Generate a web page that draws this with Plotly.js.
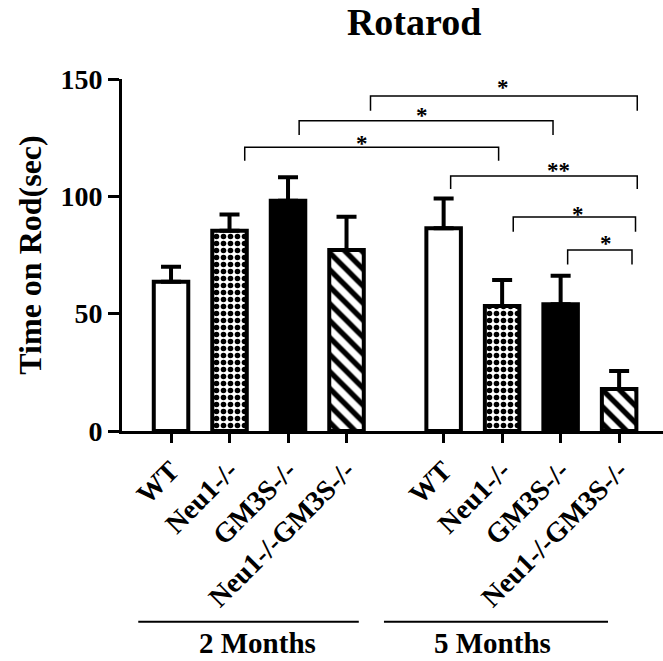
<!DOCTYPE html>
<html><head><meta charset="utf-8">
<script src="https://cdn.plot.ly/plotly-3.0.1.min.js"></script>
<style>html,body{margin:0;padding:0;background:#fff;}</style>
</head><body><div id="chart" style="width:663px;height:661px;"></div>
<script>
// ---- data ----
const genotypes = ['WT', 'Neu1-/-', 'GM3S-/-', 'Neu1-/-GM3S-/-'];
const groupNames = ['2 Months', '5 Months'];
const mean2 = [63.6, 85.3, 98.1, 77.1];
const sem2  = [6.4, 7.0, 10.0, 14.2];
const mean5 = [86.4, 53.3, 54.0, 17.9];
const sem5  = [12.7, 11.0, 12.2, 7.7];
const yTicks = [0, 50, 100, 150];
// significance brackets (x in axis units, y in seconds)
const sigLabel  = ['*', '*', '*', '**', '*', '*'];
const sigStart  = [3.41, 2.19, 1.26, 4.78, 5.85, 6.78];
const sigEnd    = [7.97, 6.53, 5.60, 7.97, 7.94, 7.88];
const sigLevel  = [142.8, 132.2, 120.9, 108.7, 91.2, 77.1];
const sigLeg    = [136.5, 126.1, 115.2, 103.1, 84.9, 71.0];
const sigTextX  = [5.68, 4.29, 3.26, 6.63, 6.96, 7.43];
const sigTextY  = [148.4, 136.5, 124.7, 113.1, 94.6, 82.1];
// group underline extents / label centres
const groupLineStart = [-0.56, 3.64];
const groupLineEnd   = [3.21, 7.47];
const groupLabelX    = [1.48, 5.50];

// ---- layout helpers ----
const groupOffset = [0, 4.66];
const pos2 = genotypes.map((_, i) => i + groupOffset[0]);
const pos5 = genotypes.map((_, i) => i + groupOffset[1]);
const FONT = 'Liberation Serif, Times New Roman, serif';

const styles = [
  {color: 'white', pattern: {shape: ''}},
  {color: 'white', pattern: {shape: '.', fgcolor: 'black', bgcolor: 'white', size: 7, solidity: 0.5}},
  {color: 'black', pattern: {shape: ''}},
  {color: 'white', pattern: {shape: '\\', fgcolor: 'black', bgcolor: 'white', size: 12, solidity: 0.45}}
];

const traces = genotypes.map((g, i) => ({
  type: 'bar',
  name: g,
  x: [pos2[i], pos5[i]],
  y: [mean2[i], mean5[i]],
  width: 0.59,
  marker: {color: styles[i].color, pattern: styles[i].pattern, line: {color: 'black', width: 4}},
  error_y: {type: 'data', symmetric: false, array: [sem2[i], sem5[i]], arrayminus: [0, 0],
            color: 'black', thickness: 4, width: 10},
  hoverinfo: 'skip',
  showlegend: false
}));

sigLabel.forEach((lab, k) => {
  traces.push({
    type: 'scatter', mode: 'lines',
    x: [sigStart[k], sigStart[k], sigEnd[k], sigEnd[k]],
    y: [sigLeg[k], sigLevel[k], sigLevel[k], sigLeg[k]],
    line: {color: 'black', width: 1.5},
    cliponaxis: false, hoverinfo: 'skip', showlegend: false
  });
});

const annotations = sigLabel.map((lab, k) => ({
  x: sigTextX[k], y: sigTextY[k], xref: 'x', yref: 'y',
  text: lab, showarrow: false, yanchor: 'middle', yshift: -5,
  font: {family: FONT, size: 23, weight: 'bold', color: 'black'}
}));
groupNames.forEach((g, k) => {
  annotations.push({
    x: groupLabelX[k], y: -0.6534, xref: 'x', yref: 'paper',
    text: g, showarrow: false, yanchor: 'bottom',
    font: {family: FONT, size: 29, weight: 'bold', color: 'black'}
  });
});
const shapes = groupNames.map((g, k) => ({
  type: 'line', xref: 'x', yref: 'paper',
  x0: groupLineStart[k], x1: groupLineEnd[k], y0: -0.5418, y1: -0.5418,
  line: {color: 'black', width: 2}
}));

const layout = {
  width: 663, height: 661,
  margin: {l: 122, r: 0, t: 79, b: 230},
  paper_bgcolor: 'white', plot_bgcolor: 'white',
  barmode: 'overlay',
  showlegend: false,
  title: {text: 'Rotarod', x: 0.54, xref: 'paper', xanchor: 'center', y: 0.967, yanchor: 'middle',
          font: {family: FONT, size: 38, weight: 'bold', color: 'black'}},
  xaxis: {
    range: [-0.838, 8.41], tickmode: 'array',
    tickvals: pos2.concat(pos5), ticktext: genotypes.concat(genotypes),
    tickangle: -45, ticks: 'outside', ticklen: 9, tickwidth: 3, tickcolor: 'black',
    showline: true, linewidth: 3, linecolor: 'black', showgrid: false, zeroline: false,
    automargin: false,
    tickfont: {family: FONT, size: 28, weight: 'bold', color: 'black'}
  },
  yaxis: {
    range: [0, 150], tickmode: 'array', tickvals: yTicks,
    ticks: 'outside', ticklen: 11, tickwidth: 3, tickcolor: 'black',
    showline: true, linewidth: 3, linecolor: 'black', showgrid: false, zeroline: false,
    automargin: false,
    tickfont: {family: FONT, size: 28, weight: 'bold', color: 'black'},
    title: {text: 'Time on Rod(sec)', standoff: 10,
            font: {family: FONT, size: 32, weight: 'bold', color: '#000000'}}
  },
  annotations: annotations,
  shapes: shapes
};

Plotly.newPlot('chart', traces, layout, {displayModeBar: false, staticPlot: true});
</script>
</body></html>
